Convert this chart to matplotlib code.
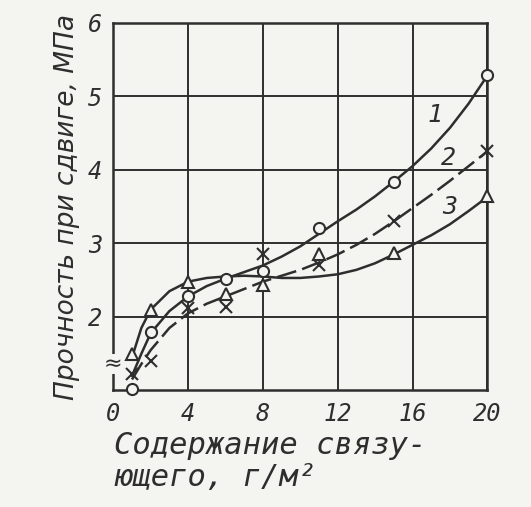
import matplotlib
matplotlib.use("Agg")
import matplotlib.pyplot as plt

# ---- data ----
# measured points
x1_pts = [1, 2, 4, 6, 8, 11, 15, 20]
y1_pts = [1.02, 1.80, 2.28, 2.51, 2.62, 3.21, 3.84, 5.29]          # curve 1, circles

x2_pts = [1, 2, 4, 6, 8, 11, 15, 20]
y2_pts = [1.22, 1.40, 2.12, 2.14, 2.85, 2.71, 3.31, 4.25]          # curve 2, crosses

x3_pts = [1, 2, 4, 6, 8, 11, 15, 20]
y3_pts = [1.50, 2.10, 2.48, 2.31, 2.44, 2.85, 2.87, 3.64]          # curve 3, triangles

# fitted curves as drawn
cx = [1, 1.5, 2, 3, 4, 5, 6, 7, 8, 9, 10, 11, 12, 13, 14, 15, 16, 17, 18, 19, 20]
c1 = [1.20, 1.50, 1.78, 2.08, 2.28, 2.42, 2.52, 2.61, 2.70, 2.82, 2.96, 3.13, 3.30, 3.46, 3.64,
      3.84, 4.05, 4.29, 4.57, 4.90, 5.28]
c2 = [1.15, 1.36, 1.55, 1.85, 2.05, 2.18, 2.28, 2.38, 2.48, 2.56, 2.64, 2.74, 2.85, 2.98, 3.13,
      3.30, 3.48, 3.66, 3.85, 4.05, 4.25]
c3 = [1.45, 1.85, 2.10, 2.35, 2.48, 2.53, 2.55, 2.56, 2.55, 2.53, 2.53, 2.55, 2.58, 2.64, 2.73,
      2.85, 2.98, 3.11, 3.26, 3.44, 3.63]

curve_labels = ["1", "2", "3"]
label_pos = [(17.2, 4.74), (17.9, 4.16), (18.0, 3.50)]

xticks = [0, 4, 8, 12, 16, 20]
yticks = [2, 3, 4, 5, 6]
ylabel = "Прочность при сдвиге, МПа"
xlabel = "Содержание связу-\nющего, г/м²"

paper = "#f4f4f1"
ink = "#2e2e2e"

fig = plt.figure(figsize=(5.31, 5.07), dpi=100, facecolor=paper)
ax = fig.add_axes([0.2134, 0.2298, 0.7043, 0.7254], facecolor=paper)

ax.set_xlim(0, 20)
ax.set_ylim(1, 6)
ax.set_xticks(xticks)
ax.set_yticks(yticks)
ax.grid(True, color=ink, lw=1.4)
ax.set_axisbelow(True)
for s in ax.spines.values():
    s.set_color(ink)
    s.set_linewidth(1.8)
ax.tick_params(length=0, pad=8, colors=ink)

tickfont = dict(family="DejaVu Sans Mono", style="italic", size=17)
ax.set_xticklabels([str(t) for t in xticks], **tickfont)
ax.set_yticklabels([str(t) for t in yticks], **tickfont)

ax.plot(cx, c1, color=ink, lw=1.8, zorder=3)
ax.plot(cx, c2, color=ink, lw=1.8, dashes=(8, 2.5), zorder=3)
ax.plot(cx, c3, color=ink, lw=1.8, zorder=3)

ax.plot(x1_pts, y1_pts, 'o', ms=8, mfc=paper, mec=ink, mew=1.5, zorder=4, clip_on=False)
ax.plot(x2_pts, y2_pts, 'x', ms=8, mec=ink, mew=1.5, zorder=4, clip_on=False)
ax.plot(x3_pts, y3_pts, '^', ms=8, mfc=paper, mec=ink, mew=1.5, zorder=4, clip_on=False)

for lab, (lx, ly) in zip(curve_labels, label_pos):
    ax.text(lx, ly, lab, ha="center", va="center", color=ink,
            family="DejaVu Sans Mono", style="italic", size=18)

# axis break mark on the left spine
ax.text(0, 1.36, "≈", ha="center", va="center", color=ink, size=16,
        family="DejaVu Sans", bbox=dict(fc=paper, ec="none", pad=0.3), zorder=5,
        clip_on=False)

ax.set_ylabel(ylabel, family="DejaVu Sans", style="italic", size=19, color=ink,
              labelpad=6)
fig.text(0.215, 0.03, xlabel, ha="left", va="bottom", color=ink,
         family="DejaVu Sans Mono", style="italic", size=22, linespacing=1.1)

fig.savefig("out.png", dpi=100, facecolor=paper)
